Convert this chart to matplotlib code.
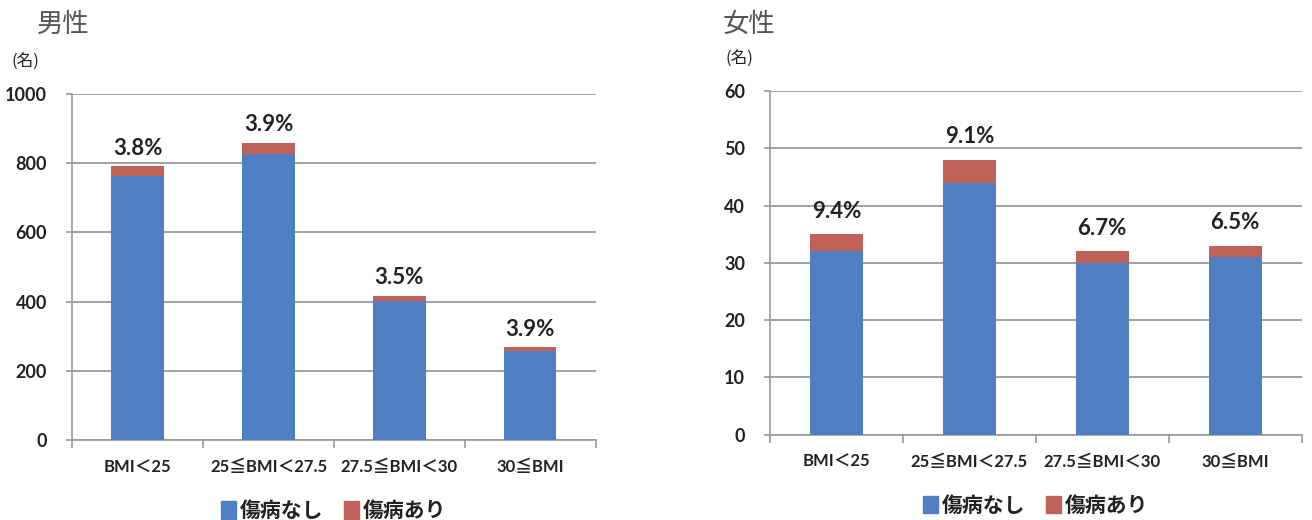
import numpy as np
import matplotlib.pyplot as plt
from matplotlib.patches import Patch

plt.rcParams['font.family'] = ['Lato', 'Noto Sans CJK JP', 'DejaVu Sans']

categories = ["BMI＜25", "25≦BMI＜27.5", "27.5≦BMI＜30", "30≦BMI"]

male_no_injury = [762, 827, 402, 258]
male_injury = [29, 32, 14, 10]

female_no_injury = [32, 44, 30, 31]
female_injury = [3, 4, 2, 2]

BLUE = "#4F7FC2"
RED = "#C0625A"
GRID = "#9a9a9a"
TEXT = "#222222"


def draw_panel(ax, base, extra, ymax, ystep, label_pad):
    x = np.arange(len(categories))
    base = np.array(base, dtype=float)
    extra = np.array(extra, dtype=float)
    ax.bar(x, base, width=0.4, color=BLUE, zorder=3)
    ax.bar(x, extra, bottom=base, width=0.4, color=RED, zorder=3)

    # share of the injured group relative to the uninjured group
    for xi, b, e in zip(x, base, extra):
        ax.text(xi, b + e + label_pad, f"{e / b * 100:.1f}%", ha="center", va="bottom",
                fontsize=16, fontweight="bold", color=TEXT)

    ax.set_xlim(-0.5, len(categories) - 0.5)
    ax.set_ylim(0, ymax)
    ax.set_yticks(np.arange(0, ymax + 1, ystep))
    ax.yaxis.grid(True, color=GRID, linewidth=1.3, zorder=0)
    ax.set_axisbelow(True)

    ax.set_xticks(x)
    ax.set_xticklabels(categories, fontsize=12, fontweight="bold", color=TEXT)
    ax.set_xticks(np.arange(-0.5, len(categories)), minor=True)
    ax.tick_params(axis="x", which="major", length=0, pad=14)
    ax.tick_params(axis="x", which="minor", length=6, color=GRID, width=1.2)
    ax.tick_params(axis="y", length=4, color=GRID, width=1.2, labelsize=13,
                   labelcolor=TEXT, pad=14)
    for lab in ax.get_yticklabels():
        lab.set_fontweight("bold")

    for side in ("top", "right"):
        ax.spines[side].set_visible(False)
    for side in ("left", "bottom"):
        ax.spines[side].set_color(GRID)
        ax.spines[side].set_linewidth(1.2)

    handles = [Patch(color=BLUE, label="傷病なし"), Patch(color=RED, label="傷病あり")]
    ax.legend(handles=handles, loc="upper center", bbox_to_anchor=(0.5, -0.12),
              ncol=2, frameon=False, handlelength=0.7, handleheight=0.9,
              handletextpad=0.2, columnspacing=1.0,
              prop={"family": ["Noto Sans CJK JP"], "size": 15, "weight": "bold"},
              labelcolor=TEXT)


fig = plt.figure(figsize=(13.12, 5.2), dpi=100)
ax1 = fig.add_axes([0.055, 0.154, 0.399, 0.665])
ax2 = fig.add_axes([0.587, 0.164, 0.405, 0.661])

draw_panel(ax1, male_no_injury, male_injury, 1000, 200, 22)
draw_panel(ax2, female_no_injury, female_injury, 60, 10, 2.2)

fig.text(0.028, 0.953, "男性", fontsize=19, color="#555555",
         family=["Noto Sans CJK JP"], va="center")
fig.text(0.551, 0.953, "女性", fontsize=19, color="#555555",
         family=["Noto Sans CJK JP"], va="center")
fig.text(0.009, 0.88, "(名)", fontsize=12, color=TEXT,
         family=["Noto Sans CJK JP"], va="center")
fig.text(0.553, 0.885, "(名)", fontsize=12, color=TEXT,
         family=["Noto Sans CJK JP"], va="center")

fig.savefig("out.png", dpi=100, facecolor="white")
